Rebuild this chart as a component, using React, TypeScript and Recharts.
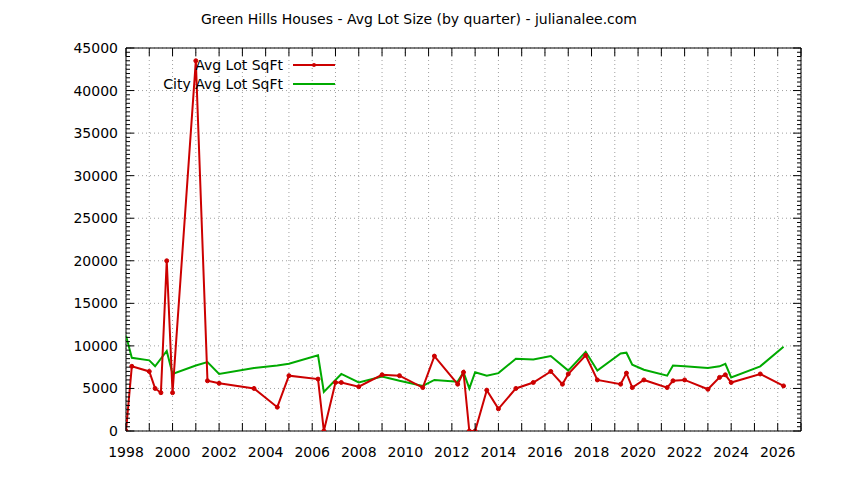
import { LineChart, Line, XAxis, YAxis, CartesianGrid, ReferenceArea } from "recharts";

// quarters (decimal year) and average lot size, Green Hills houses
const lotQuarters = [
  1998.0, 1998.25, 1999.0, 1999.25, 1999.5, 1999.75, 2000.0, 2001.0, 2001.5, 2002.0,
  2003.5, 2004.5, 2005.0, 2006.25, 2006.5, 2007.0, 2007.25, 2008.0, 2009.0, 2009.75,
  2010.75, 2011.25, 2012.25, 2012.5, 2012.75, 2013.0, 2013.5, 2014.0, 2014.75, 2015.5,
  2016.25, 2016.75, 2017.0, 2017.75, 2018.25, 2019.25, 2019.5, 2019.75, 2020.25, 2021.25,
  2021.5, 2022.0, 2023.0, 2023.5, 2023.75, 2024.0, 2025.25, 2026.25,
];
const lotSqft = [
  0, 7600, 7000, 5000, 4500, 20000, 4500, 43500, 5900, 5600,
  5000, 2800, 6500, 6100, 0, 5700, 5700, 5200, 6600, 6500,
  5100, 8800, 5500, 6900, 0, 0, 4800, 2600, 5000, 5700,
  7000, 5500, 6700, 8900, 6000, 5500, 6800, 5100, 6000, 5100,
  5900, 6000, 4900, 6300, 6600, 5700, 6700, 5300,
];

// city-wide average for the same quarters
const cityQuarters = [
  1998.0, 1998.25, 1999.0, 1999.25, 1999.75, 2000.0, 2001.0, 2001.5, 2002.0, 2003.5,
  2004.5, 2005.0, 2006.25, 2006.5, 2007.25, 2008.0, 2009.0, 2009.75, 2010.75, 2011.25,
  2012.25, 2012.5, 2012.75, 2013.0, 2013.5, 2014.0, 2014.75, 2015.5, 2016.25, 2017.0,
  2017.75, 2018.25, 2019.25, 2019.5, 2019.75, 2020.25, 2021.25, 2021.5, 2022.0, 2023.0,
  2023.5, 2023.75, 2024.0, 2025.25, 2026.25,
];
const citySqft = [
  11200, 8600, 8300, 7600, 9400, 6700, 7700, 8100, 6700, 7400,
  7700, 7900, 8900, 4600, 6700, 5700, 6400, 5900, 5300, 6000,
  5800, 6900, 5000, 6900, 6500, 6800, 8500, 8400, 8800, 7100,
  9300, 7100, 9100, 9200, 7800, 7200, 6500, 7700, 7600, 7400,
  7600, 7900, 6300, 7600, 9900,
];

const yearTicks = [
  1998, 1999, 2000, 2001, 2002, 2003, 2004, 2005, 2006, 2007, 2008, 2009, 2010, 2011, 2012,
  2013, 2014, 2015, 2016, 2017, 2018, 2019, 2020, 2021, 2022, 2023, 2024, 2025, 2026, 2027,
];
const yMajorTicks = [0, 5000, 10000, 15000, 20000, 25000, 30000, 35000, 40000, 45000];
const Y_MINOR_STEP = 500;

const lotData = lotQuarters.map((x, i) => ({ x, v: lotSqft[i] }));
const cityData = cityQuarters.map((x, i) => ({ x, v: citySqft[i] }));
const yAllTicks = Array.from(
  { length: yMajorTicks[yMajorTicks.length - 1] / Y_MINOR_STEP + 1 },
  (_, i) => i * Y_MINOR_STEP
);

const W = 844;
const H = 480;
const TOP = 48;
const LEFT = 126;
const RIGHT = 801;
const BOTTOM = 431;
const FONT = "'DejaVu Sans', Verdana, sans-serif";
const FS = 14;
const RED = "#cc0000";
const GREEN = "#00aa00";

function XTick(props: any) {
  const { payload } = props;
  const cx = payload.coordinate;
  return (
    <g>
      <line x1={cx} x2={cx} y1={BOTTOM} y2={BOTTOM - 8} stroke="#000" />
      <line x1={cx} x2={cx} y1={TOP} y2={TOP + 8} stroke="#000" />
      {payload.value % 2 === 0 && (
        <text x={cx} y={BOTTOM + 26} textAnchor="middle" fontFamily={FONT} fontSize={FS} fill="#000">
          {payload.value}
        </text>
      )}
    </g>
  );
}

function YTick(props: any) {
  const { payload } = props;
  const cy = payload.coordinate;
  const major = payload.value % 5000 === 0;
  const len = major ? 8 : 4;
  return (
    <g>
      <line x1={LEFT} x2={LEFT + len} y1={cy} y2={cy} stroke="#000" />
      <line x1={RIGHT} x2={RIGHT - len} y1={cy} y2={cy} stroke="#000" />
      {major && (
        <text x={LEFT - 8} y={cy + 5} textAnchor="end" fontFamily={FONT} fontSize={FS} fill="#000">
          {payload.value}
        </text>
      )}
    </g>
  );
}

export default function App() {
  return (
    <div style={{ position: "relative", width: W, height: H, background: "#fff" }}>
      <style>{"body{margin:0}"}</style>
      <div
        style={{
          position: "absolute",
          left: 0,
          width: 838,
          top: 11,
          textAlign: "center",
          fontFamily: FONT,
          fontSize: FS,
          color: "#000",
        }}
      >
        Green Hills Houses - Avg Lot Size (by quarter) - julianalee.com
      </div>
      <LineChart width={W} height={H} margin={{ top: TOP, right: W - RIGHT, bottom: 0, left: 0 }}>
        <CartesianGrid
          stroke="#a0a0a0"
          strokeDasharray="1 3"
          horizontalValues={yMajorTicks}
        />
        <XAxis
          type="number"
          dataKey="x"
          domain={[1998, 2027]}
          ticks={yearTicks}
          interval={0}
          height={H - BOTTOM}
          axisLine={false}
          tickLine={false}
          tickSize={0}
          tick={XTick}
          allowDataOverflow
        />
        <YAxis
          type="number"
          domain={[0, 45000]}
          ticks={yAllTicks}
          interval={0}
          width={LEFT}
          axisLine={false}
          tickLine={false}
          tickSize={0}
          tick={YTick}
          allowDataOverflow
        />
        <ReferenceArea x1={1998} x2={2027} y1={0} y2={45000} fill="none" stroke="#000" strokeWidth={1} />
        <Line
          data={cityData}
          dataKey="v"
          name="City Avg Lot SqFt"
          stroke={GREEN}
          strokeWidth={2}
          dot={false}
          isAnimationActive={false}
        />
        <Line
          data={lotData}
          dataKey="v"
          name="Avg Lot SqFt"
          stroke={RED}
          strokeWidth={2}
          dot={{ r: 2, fill: RED, stroke: RED, strokeWidth: 1 }}
          isAnimationActive={false}
        />
      </LineChart>
      <svg width={W} height={H} style={{ position: "absolute", left: 0, top: 0, pointerEvents: "none" }}>
        <text x={283} y={70} textAnchor="end" fontFamily={FONT} fontSize={FS} fill="#000">
          Avg Lot SqFt
        </text>
        <line x1={293} x2={335} y1={65} y2={65} stroke={RED} strokeWidth={2} />
        <circle cx={314} cy={65} r={2} fill={RED} />
        <text x={283} y={89} textAnchor="end" fontFamily={FONT} fontSize={FS} fill="#000">
          City Avg Lot SqFt
        </text>
        <line x1={293} x2={335} y1={84} y2={84} stroke={GREEN} strokeWidth={2} />
      </svg>
    </div>
  );
}
